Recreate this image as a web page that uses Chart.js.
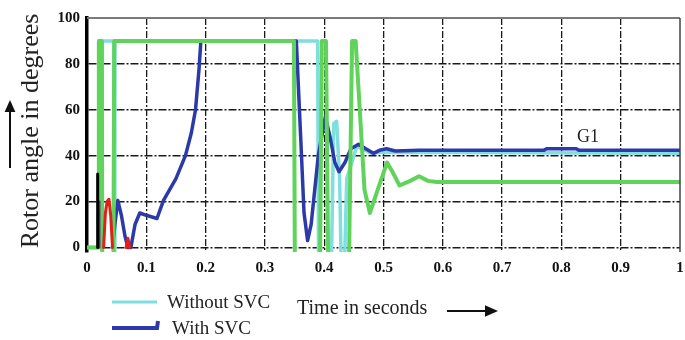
<!DOCTYPE html>
<html>
<head>
<meta charset="utf-8">
<script src="https://cdn.jsdelivr.net/npm/chart.js@4"></script>
<style>
  html, body { margin: 0; padding: 0; background: #fff; }
  #wrap { width: 685px; height: 340px; }
</style>
</head>
<body>
<div id="wrap"><canvas id="rotor"></canvas></div>
<script>
// time axis (s) and rotor angle (deg)
// values below 0 leave the plotted window (clipped, as in the original)
var greenT = [0, 0.019, 0.020, 0.025, 0.026, 0.044, 0.046, 0.349, 0.351, 0.392, 0.396, 0.403, 0.408, 0.440, 0.447, 0.453, 0.460, 0.468, 0.477, 0.490, 0.506, 0.515, 0.527, 0.545, 0.560, 0.575, 0.590, 1.0];
var greenV = [0, 0, 90, 90, -40, -40, 90, 90, -40, -40, 90, 90, -40, -40, 90, 90, 60, 25, 15, 25, 37, 33, 27, 29, 31, 29, 28.5, 28.5];

var withoutT = [0, 0.024, 0.026, 0.045, 0.046, 0.047, 0.389, 0.391, 0.410, 0.416, 0.421, 0.426, 0.431, 0.438, 0.455, 0.480, 0.500, 1.0];
var withoutV = [0, 0, 90, 90, -40, 90, 90, -40, -40, 54, 55, 30, -40, 30, 44, 41, 41.5, 41];

var withT = [0.043, 0.047, 0.052, 0.058, 0.064, 0.069, 0.074, 0.081, 0.089, 0.100, 0.118, 0.129, 0.150, 0.166, 0.176, 0.183, 0.189, 0.192, 0.353, 0.360, 0.366, 0.372, 0.378, 0.390, 0.402, 0.410, 0.418, 0.425, 0.435, 0.445, 0.458, 0.470, 0.483, 0.495, 0.505, 0.520, 0.560, 0.770, 0.775, 0.825, 0.830, 1.0];
var withV = [0, 10, 20.5, 14, 5, 0, 0, 10, 15, 14, 12.6, 20.5, 30, 40, 50, 60, 78, 90, 90, 50, 15, 3, 10, 40, 57, 48, 37, 33, 37, 43, 45, 43, 41, 42.5, 43, 42, 42.3, 42.3, 43, 43, 42.3, 42.3];

var redT = [0.028, 0.031, 0.034, 0.037, 0.040, 0.043, 0.050, 0.066, 0.069, 0.072];
var redV = [0, 15, 20, 21, 14, 0, null, 0, 4, 0];

var blackT = [0.018, 0.018];
var blackV = [0, 32];
var purpleT = [0.021, 0.021];
var purpleV = [0, 20];

var yTicks = [0, 20, 40, 60, 80, 100];
var legendOrder = ['Without SVC', 'With SVC'];

function pts(t, v) {
    return t.map(function(x, i) { return {x: x, y: v[i]}; });
}

var SERIF = '"Liberation Serif", "DejaVu Serif", serif';

function arrow(ctx, x1, y1, x2, y2, head) {
    var a = Math.atan2(y2 - y1, x2 - x1);
    ctx.beginPath();
    ctx.moveTo(x1, y1);
    ctx.lineTo(x2 - Math.cos(a) * head, y2 - Math.sin(a) * head);
    ctx.stroke();
    ctx.beginPath();
    ctx.moveTo(x2, y2);
    ctx.lineTo(x2 - Math.cos(a) * head - Math.sin(a) * head * 0.45, y2 - Math.sin(a) * head + Math.cos(a) * head * 0.45);
    ctx.lineTo(x2 - Math.cos(a) * head + Math.sin(a) * head * 0.45, y2 - Math.sin(a) * head - Math.cos(a) * head * 0.45);
    ctx.closePath();
    ctx.fill();
}

// frame, axis title, legend and G1 note
var extras = {
    id: 'extras',
    afterDraw: function(chart) {
        var ctx = chart.ctx;
        var a = chart.chartArea;
        var ys = chart.scales.y, xs = chart.scales.x;
        ctx.save();
        // top and right frame
        ctx.strokeStyle = '#7a7a7a';
        ctx.lineWidth = 2;
        ctx.beginPath();
        ctx.moveTo(a.left, ys.getPixelForValue(100));
        ctx.lineTo(a.right, ys.getPixelForValue(100));
        ctx.stroke();
        ctx.strokeStyle = '#444';
        ctx.lineWidth = 1.5;
        ctx.beginPath();
        ctx.moveTo(a.right, ys.getPixelForValue(100));
        ctx.lineTo(a.right, a.bottom);
        ctx.stroke();

        // y title
        ctx.fillStyle = '#222';
        ctx.font = '26px ' + SERIF;
        ctx.textAlign = 'center';
        ctx.textBaseline = 'middle';
        ctx.translate(31, 131);
        ctx.rotate(-Math.PI / 2);
        ctx.fillText('Rotor angle in degrees', 0, 0);
        ctx.setTransform(1, 0, 0, 1, 0, 0);
        ctx.strokeStyle = '#111';
        ctx.fillStyle = '#111';
        ctx.lineWidth = 2;
        arrow(ctx, 10, 168, 10, 100, 12);

        // G1
        ctx.fillStyle = '#222';
        ctx.font = '18px ' + SERIF;
        ctx.textAlign = 'center';
        ctx.fillText('G1', xs.getPixelForValue(0.845), ys.getPixelForValue(48));

        // legend
        ctx.textAlign = 'left';
        ctx.textBaseline = 'middle';
        ctx.font = '19px ' + SERIF;
        var ds = chart.data.datasets;
        legendOrder.forEach(function(name, i) {
            var d = ds.filter(function(s) { return s.label === name; })[0];
            var y = 302 + i * 26;
            ctx.strokeStyle = d.borderColor;
            ctx.lineWidth = i === 0 ? 3 : 4;
            ctx.beginPath();
            ctx.moveTo(112, y);
            ctx.lineTo(157, y);
            if (i === 1) ctx.lineTo(158, y - 7);
            ctx.stroke();
            ctx.fillStyle = '#222';
            ctx.fillText(d.label, i === 0 ? 167 : 172, y + 1);
        });

        // x title
        ctx.font = '20px ' + SERIF;
        ctx.fillText('Time in seconds', 297, 309);
        ctx.strokeStyle = '#111';
        ctx.fillStyle = '#111';
        ctx.lineWidth = 2;
        arrow(ctx, 447, 311, 498, 311, 13);
        ctx.restore();
    }
};

var ctx = document.getElementById('rotor').getContext('2d');
var rotorChart = new Chart(ctx, {
    type: 'line',
    data: {
        datasets: [
            { label: 'spike', data: pts(blackT, blackV), borderColor: '#000', borderWidth: 3 },
            { label: 'spike2', data: pts(purpleT, purpleV), borderColor: '#6b2a9a', borderWidth: 2 },
            { label: 'red', data: pts(redT, redV), borderColor: '#e0201a', borderWidth: 3 },
            { label: 'G1 other', data: pts(greenT, greenV), borderColor: '#5fd35a', borderWidth: 4 },
            { label: 'With SVC', data: pts(withT, withV), borderColor: '#2b3aa8', borderWidth: 3.5 },
            { label: 'Without SVC', data: pts(withoutT, withoutV), borderColor: '#7fdede', borderWidth: 3.5 }
        ]
    },
    options: {
        responsive: true,
        maintainAspectRatio: false,
        animation: false,
        datasets: {
            line: {
                pointRadius: 0,
                tension: 0,
                fill: false,
                borderJoinStyle: 'round',
                borderCapStyle: 'round',
                spanGaps: false
            }
        },
        layout: { padding: { left: 0, top: 18, right: 0, bottom: 0 } },
        plugins: {
            legend: { display: false },
            tooltip: { enabled: false }
        },
        scales: {
            x: {
                type: 'linear',
                min: 0,
                max: 1,
                ticks: {
                    stepSize: 0.1,
                    padding: 7,
                    color: '#111',
                    font: { family: SERIF, size: 15, weight: 'bold' },
                    callback: function(v) { return String(Math.round(v * 10) / 10); }
                },
                grid: {
                    drawTicks: false,
                    lineWidth: 1.3,
                    color: function(c) {
                        var v = c.tick ? c.tick.value : 0;
                        return (v < 0.01 || v > 0.99) ? 'rgba(0,0,0,0)' : '#1a1a1a';
                    }
                },
                border: { display: false, dash: [7, 2, 2, 2] },
                afterFit: function(s) { s.height = 88; s.paddingRight = 5; }
            },
            y: {
                min: -2,
                max: 100,
                afterBuildTicks: function(s) {
                    s.ticks = yTicks.map(function(v) { return {value: v}; });
                },
                ticks: {
                    padding: 7,
                    color: '#111',
                    font: { family: SERIF, size: 15, weight: 'bold' }
                },
                grid: {
                    drawTicks: false,
                    lineWidth: 1.5,
                    color: function(c) {
                        var v = c.tick ? c.tick.value : 0;
                        return v >= 100 ? 'rgba(0,0,0,0)' : '#1a1a1a';
                    }
                },
                border: { display: true, width: 3.5, color: '#000', dash: [8, 2, 2, 2] },
                afterFit: function(s) { s.width = 87; }
            }
        }
    },
    plugins: [extras]
});
</script>
</body>
</html>
